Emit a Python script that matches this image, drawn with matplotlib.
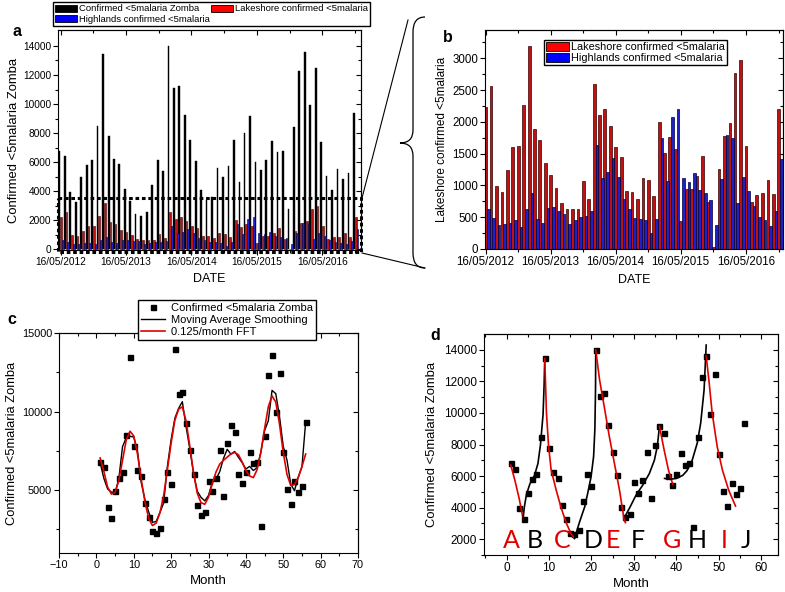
import numpy as np
import pandas as pd
import matplotlib
matplotlib.use('Agg')
import matplotlib.pyplot as plt
import matplotlib.dates as mdates
from matplotlib.path import Path
from matplotlib.patches import PathPatch, Patch
from matplotlib.lines import Line2D
from matplotlib.ticker import FixedLocator, FixedFormatter
from matplotlib.transforms import blended_transform_factory

plt.rcParams['font.family'] = ['Liberation Sans', 'DejaVu Sans']

# ---------------- data ----------------
start_date = '2012-05-16'
date_ticks = ['16/05/2012', '16/05/2013', '16/05/2014', '16/05/2015', '16/05/2016']
minor_date_ticks = ['2012-11-16', '2013-11-16', '2014-11-16', '2015-11-16', '2016-11-16']
major_date_ticks = ['2012-05-16', '2013-05-16', '2014-05-16', '2015-05-16', '2016-05-16']

zomba_bars = [6800, 6450, 3950, 3250, 4950, 5800, 6150, 8500, 13450, 7800,
              6250, 5900, 4150, 3300, 2400, 2300, 2600, 4450, 6150, 5400,
              14000, 11100, 11250, 9250, 7550, 6050, 4050, 3400, 3600, 5600,
              4950, 5750, 7550, 4600, 8000, 9150, 6000, 5450, 6150, 7450,
              6700, 6800, 2750, 8450, 12300, 13600, 9950, 12450, 7400, 5050,
              4100, 5550, 4850, 5250, 9350]
lakeshore = [2230, 2560, 985, 900, 1240, 1610, 1615, 2260, 3190, 1880,
             1710, 1355, 1160, 965, 725, 635, 630, 625, 1075, 785,
             2600, 2105, 2205, 1940, 1610, 1450, 905, 890, 790, 1110,
             1085, 825, 1990, 1505, 1760, 1570, 440, 945, 935, 1140,
             1465, 740, 30, 1260, 1775, 1980, 2770, 2965, 1620, 730,
             840, 875, 1088, 860, 2205]
highlands = [627, 486, 371, 387, 408, 460, 350, 627, 878, 470,
             408, 637, 658, 600, 554, 397, 449, 496, 520, 590,
             1635, 1113, 1217, 1426, 1128, 789, 627, 486, 470, 460,
             250, 475, 1750, 1076, 2079, 2194, 1113, 1050, 1191, 930,
             877, 773, 371, 1097, 1792, 1740, 721, 1139, 904, 669,
             496, 449, 355, 590, 1411]

months = list(range(1, 57))
zomba_monthly = [6800, 6450, 3950, 3250, 4950, 5800, 6150, 8500, 13450, 7800,
                 6250, 5900, 4150, 3300, 2400, 2300, 2600, 4450, 6150, 5400,
                 14000, 11100, 11250, 9250, 7550, 6050, 4050, 3400, 3600, 5600,
                 4950, 5750, 7550, 4600, 8000, 9150, 8700, 6000, 5450, 6150,
                 7450, 6700, 6800, 2750, 8450, 12300, 13600, 9950, 12450, 7400,
                 5050, 4100, 5550, 4850, 5250, 9350]
moving_avg = [6750, 5750, 5080, 4880, 4820, 5730, 7770, 8340, 8430, 8380,
              7510, 5480, 4400, 3610, 2950, 3010, 3580, 4180, 6520, 8220,
              9580, 10200, 10630, 9040, 7630, 6060, 4930, 4540, 4320, 4660,
              5490, 5690, 6170, 7010, 7600, 7290, 7460, 7090, 6750, 6350,
              6510, 6250, 6430, 7400, 8780, 9410, 11350, 11140, 9690, 7790,
              6910, 5390, 4960, 5820, 6480, 9350]
fft_0125 = [7050, 6200, 5200, 4750, 4850, 5600, 6900, 8200, 8750, 8450,
            7300, 5700, 4250, 3200, 2750, 2900, 3550, 4650, 6300, 8000,
            9450, 10150, 10300, 9400, 7800, 6100, 4800, 4200, 4100, 4550,
            5400, 6150, 6650, 6900, 7100, 7300, 7400, 7250, 6800, 6250,
            5900, 5800, 6300, 7400, 8900, 10300, 11000, 10600, 9200, 7400,
            6000, 5300, 5350, 5800, 6500, 7300]

# panel d fitted segments (month, value)
seg_A_x = [1.0, 2.0, 3.0, 3.9];            seg_A_y = [6700, 5700, 4550, 3300]
seg_B_x = [3.9, 4.2, 4.7, 5.5, 6.6, 7.4, 8.0, 8.6, 8.85, 9.0]
seg_B_y = [3300, 4050, 4850, 5500, 6050, 6800, 8000, 9900, 11800, 13450]
seg_C_x = [9.0, 9.4, 9.9, 10.5, 11.7, 12.9, 14.1, 15.2, 16.0]
seg_C_y = [13450, 10000, 7900, 6400, 5100, 3950, 3000, 2350, 2050]
seg_D_x = [16.0, 17.2, 18.4, 19.1, 19.9, 20.5, 20.8, 20.95, 21.0]
seg_D_y = [2050, 3100, 4050, 4900, 5950, 7250, 9000, 11500, 14000]
seg_E_x = [21.0, 21.9, 23.0, 24.2, 25.4, 26.6, 27.7, 28.0]
seg_E_y = [14000, 12100, 10400, 8500, 6800, 5100, 3200, 3050]
seg_F_x = [28.0, 29.1, 30.5, 32.0, 33.6, 34.8, 35.5, 36.0]
seg_F_y = [3500, 4050, 4800, 5400, 6150, 7000, 7900, 9150]
seg_G_x = [36.0, 37.1, 38.1, 39.1];        seg_G_y = [9150, 7650, 6400, 5500]
seg_H_x = [37.2, 38.5, 40.0, 41.5, 42.5, 43.7, 44.9, 45.7, 46.5, 47.0]
seg_H_y = [5850, 5800, 5850, 6050, 6350, 7000, 8100, 9350, 11450, 14300]
seg_I_x = [47.0, 47.7, 48.4, 49.6, 50.8, 52.3, 53.9]
seg_I_y = [13600, 11900, 10000, 7850, 6400, 5100, 4100]

phase_letters = ['A', 'B', 'C', 'D', 'E', 'F', 'G', 'H', 'I', 'J']
phase_pos = [1.2, 6.6, 13.1, 20.3, 25.0, 30.9, 38.9, 44.9, 51.2, 56.3]
phase_red = [True, False, True, False, True, False, True, False, True, False]

# ---------------- styling helpers ----------------
W, H = 785, 592
RED = '#e00000'
BAR_RED = '#c01010'
BAR_RED_EDGE = '#3a0000'
BAR_BLUE = '#2020c8'
BAR_BLUE_EDGE = '#000040'
fig = plt.figure(figsize=(W / 100, H / 100), dpi=100)


def box(l, t, r, b):
    return [l / W, 1 - b / H, (r - l) / W, (b - t) / H]


def fp(x, y):
    return (x / W, 1 - y / H)


def setup(ax, xmaj, xmin, ymaj, ymin, fs, xlabels=None):
    ax.xaxis.set_major_locator(FixedLocator(xmaj))
    ax.xaxis.set_minor_locator(FixedLocator(xmin))
    ax.yaxis.set_major_locator(FixedLocator(ymaj))
    ax.yaxis.set_minor_locator(FixedLocator(ymin))
    if xlabels is not None:
        ax.xaxis.set_major_formatter(FixedFormatter(xlabels))
    ax.tick_params(which='both', direction='out', width=0.8, labelsize=fs, pad=1.5,
                   top=False, right=False)
    ax.tick_params(which='major', length=3.5)
    ax.tick_params(which='minor', length=2)
    for s in ax.spines.values():
        s.set_linewidth(0.8)
    sx = ax.secondary_xaxis('top')
    sx.set_ticks(xmaj)
    sx.set_ticks(xmin, minor=True)
    sx.tick_params(which='both', direction='in', labeltop=False, labelbottom=False, width=0.8)
    sx.tick_params(which='major', length=3.5)
    sx.tick_params(which='minor', length=2)
    sx.spines['top'].set_linewidth(0.8)
    sy = ax.secondary_yaxis('right')
    sy.set_ticks(ymaj)
    sy.set_ticks(ymin, minor=True)
    sy.tick_params(which='both', direction='in', labelright=False, labelleft=False, width=0.8)
    sy.tick_params(which='major', length=3.5)
    sy.tick_params(which='minor', length=2)
    sy.spines['right'].set_linewidth(0.8)


bar_dates = pd.date_range(start_date, periods=len(zomba_bars), freq=pd.DateOffset(months=1))
xd = mdates.date2num(bar_dates.to_pydatetime())
maj_d = list(mdates.date2num(pd.to_datetime(major_date_ticks).to_pydatetime()))
min_d = list(mdates.date2num(pd.to_datetime(minor_date_ticks).to_pydatetime()))

h_black = Patch(facecolor='black', edgecolor='black', lw=0.6)
h_red = Patch(facecolor='#ff0000', edgecolor='black', lw=0.6)
h_blue = Patch(facecolor='#0000ff', edgecolor='black', lw=0.6)

# ---------------- panel a ----------------
ax_a = fig.add_axes(box(58, 30, 361, 250))
ax_a.bar(xd - 7, zomba_bars, width=10, color='black', edgecolor='black', lw=0.3)
ax_a.bar(xd + 3, lakeshore, width=10, facecolor=BAR_RED, edgecolor=BAR_RED_EDGE, lw=0.4)
ax_a.bar(xd + 13, highlands, width=10, facecolor=BAR_BLUE, edgecolor=BAR_BLUE_EDGE, lw=0.4)
ax_a.set_xlim(xd[0] - 14, xd[-1] + 32)
ax_a.set_ylim(-50, 15100)
setup(ax_a, maj_d, min_d, list(range(0, 15000, 2000)), list(range(1000, 15000, 2000)), 7.3, date_ticks)
ax_a.set_ylabel('Confirmed <5malaria Zomba', fontsize=9.4, labelpad=2)
ax_a.set_xlabel('DATE', fontsize=9, labelpad=4)
tr = blended_transform_factory(ax_a.transAxes, ax_a.transData)
ax_a.plot([0, 1, 1, 0, 0], [3500, 3500, -200, -200, 3500], transform=tr, color='black',
          lw=2.2, ls=(0, (1.2, 0.9)), clip_on=False, zorder=6)
fig.legend([h_black, h_blue, h_red], ['Confirmed <5malaria Zomba', 'Highlands confirmed <5malaria',
                                      'Lakeshore confirmed <5malaria'],
           ncol=2, loc='upper left', bbox_to_anchor=fp(53, 2), bbox_transform=fig.transFigure,
           fontsize=6.8, frameon=True, fancybox=False, edgecolor='black', framealpha=1,
           handlelength=2.3, handleheight=0.75, handletextpad=0.2, columnspacing=0.15,
           borderpad=0.25, labelspacing=0.15, borderaxespad=0)

# ---------------- panel b ----------------
ax_b = fig.add_axes(box(485, 30, 783, 249.5))
ax_b.bar(xd, lakeshore, width=15, facecolor=BAR_RED, edgecolor=BAR_RED_EDGE, lw=0.5)
ax_b.bar(xd + 15, highlands, width=15, facecolor=BAR_BLUE, edgecolor=BAR_BLUE_EDGE, lw=0.5)
ax_b.set_xlim(xd[0] - 3, xd[-1] + 24)
ax_b.set_ylim(-10, 3445)
setup(ax_b, maj_d, min_d, list(range(0, 3001, 500)), list(range(250, 3400, 500)), 8.3, date_ticks)
ax_b.set_ylabel('Lakeshore confirmed <5malaria', fontsize=8.5, labelpad=3)
ax_b.set_xlabel('DATE', fontsize=9, labelpad=4)
ax_b.legend([h_red, h_blue], ['Lakeshore confirmed <5malaria', 'Highlands confirmed <5malaria'],
            loc='upper left', bbox_to_anchor=((544 - 485) / 298, 1 - (40 - 30) / 219.5),
            fontsize=7.8, frameon=True, fancybox=False, edgecolor='black', framealpha=1,
            handlelength=2.1, handleheight=0.8, handletextpad=0.2, borderpad=0.2,
            labelspacing=0.1, borderaxespad=0)

# ---------------- panel c ----------------
ax_c = fig.add_axes(box(59, 333, 358, 553))
ax_c.plot(months, zomba_monthly, 's', color='black', ms=3.6, zorder=3)
ax_c.plot(months, moving_avg, '-', color='black', lw=1.0, zorder=4)
ax_c.plot(months, fft_0125, '-', color=RED, lw=1.2, zorder=5)
ax_c.set_xlim(-10, 70)
ax_c.set_ylim(1000, 15000)
setup(ax_c, list(range(-10, 71, 10)), list(range(-5, 70, 10)),
      [5000, 10000, 15000], [2500, 7500, 12500], 7.8)
ax_c.set_ylabel('Confirmed <5malaria Zomba', fontsize=9.3, labelpad=3)
ax_c.set_xlabel('Month', fontsize=9.5, labelpad=4)
leg_c = [Line2D([], [], ls='none', marker='s', color='black', ms=3.6),
         Line2D([], [], color='black', lw=1.0),
         Line2D([], [], color=RED, lw=1.2)]
ax_c.legend(leg_c, ['Confirmed <5malaria Zomba', 'Moving Average Smoothing', '0.125/month FFT'],
            loc='upper left', bbox_to_anchor=((138 - 59) / 299, 1 + (333 - 300) / 220),
            fontsize=8, frameon=True, fancybox=False, edgecolor='black', framealpha=1,
            handlelength=2.2, handletextpad=0.5, borderpad=0.25, labelspacing=0.18,
            borderaxespad=0)

# ---------------- panel d ----------------
ax_d = fig.add_axes(box(484, 334, 778, 555))
ax_d.plot(months, zomba_monthly, 's', color='black', ms=3.6, zorder=3)
for sx_, sy_, col in [(seg_A_x, seg_A_y, RED), (seg_B_x, seg_B_y, 'black'),
                      (seg_C_x, seg_C_y, RED), (seg_D_x, seg_D_y, 'black'),
                      (seg_E_x, seg_E_y, RED), (seg_F_x, seg_F_y, 'black'),
                      (seg_G_x, seg_G_y, RED), (seg_H_x, seg_H_y, 'black'),
                      (seg_I_x, seg_I_y, RED)]:
    ax_d.plot(sx_, sy_, '-', color=col, lw=1.2, zorder=4)
for lab, xp, isred in zip(phase_letters, phase_pos, phase_red):
    ax_d.text(xp, 1950, lab, color=RED if isred else 'black', fontsize=18,
              family=['Lato', 'DejaVu Sans'], ha='center', va='center')
ax_d.set_xlim(-5.3, 63.9)
ax_d.set_ylim(1000, 15000)
setup(ax_d, list(range(0, 61, 10)), list(range(-5, 64, 10)),
      list(range(2000, 14001, 2000)), list(range(1000, 15000, 2000)), 8.5)
ax_d.set_ylabel('Confirmed <5malaria Zomba', fontsize=9.4, labelpad=4)
ax_d.set_xlabel('Month', fontsize=9.5, labelpad=3)

# ---------------- panel letters ----------------
for lab, (px, py) in zip(['a', 'b', 'c', 'd'], [(17, 31), (448, 37), (12, 319), (435, 335)]):
    fig.text(*fp(px, py), lab, fontsize=11.5, fontweight='bold', ha='center', va='center')

# ---------------- zoom connectors and brace ----------------
fig.add_artist(Line2D([362 / W, 408 / W], [1 - 198 / H, 1 - 20 / H], color='black', lw=0.8,
                      transform=fig.transFigure))
fig.add_artist(Line2D([362 / W, 425 / W], [1 - 253 / H, 1 - 268 / H], color='black', lw=0.8,
                      transform=fig.transFigure))
pts = [(425, 17), (413, 17), (413, 32), (413, 130), (413, 143), (400, 143),
       (413, 143), (413, 156), (413, 253), (413, 268), (425, 268)]
codes = [Path.MOVETO, Path.CURVE3, Path.CURVE3, Path.LINETO, Path.CURVE3, Path.CURVE3,
         Path.CURVE3, Path.CURVE3, Path.LINETO, Path.CURVE3, Path.CURVE3]
brace = Path([fp(x, y) for x, y in pts], codes)
fig.add_artist(PathPatch(brace, facecolor='none', edgecolor='black', lw=0.9,
                         transform=fig.transFigure))

fig.savefig('out.png', dpi=100)
